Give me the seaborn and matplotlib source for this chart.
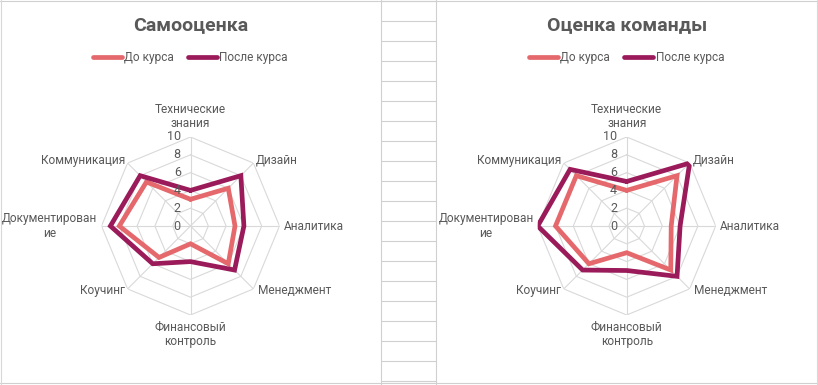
import numpy as np
import pandas as pd
import matplotlib
matplotlib.use("Agg")
import matplotlib.pyplot as plt
from matplotlib.lines import Line2D
import seaborn as sns

categories = ["Технические\nзнания", "Дизайн", "Аналитика", "Менеджмент",
              "Финансовый\nконтроль", "Коучинг", "Документирован\nие", "Коммуникация"]
series_names = ["До курса", "После курса"]
self_before = [3, 6, 5, 6, 2, 5, 8, 7]
self_after = [4, 8, 6, 7, 4, 6, 9, 8]
team_before = [4, 8, 5, 7, 3, 6, 8, 8]
team_after = [5, 10, 6, 8, 5, 7, 10, 9]
titles = ["Самооценка", "Оценка команды"]
radial_ticks = [0, 2, 4, 6, 8, 10]

COLORS = {"До курса": "#E5686C", "После курса": "#9A1A5A"}
TEXT = "#595959"
GRID = "#D9D9D9"

sns.set_theme(style="white")
plt.rcParams["font.family"] = ["Roboto", "DejaVu Sans"]

W, H = 818, 385
fig = plt.figure(figsize=(W / 100, H / 100), dpi=100)

# spreadsheet background
bg = fig.add_axes([0, 0, 1, 1])
bg.set_xlim(0, W)
bg.set_ylim(H, 0)
bg.axis("off")
for y in range(1, H, 20):
    bg.plot([381, 436], [y, y], color="#D0D0D0", lw=0.8)
bg.plot([381, 381], [0, H], color="#D0D0D0", lw=0.8)
bg.plot([436, 436], [0, H], color="#D0D0D0", lw=0.8)
bg.plot([0, W], [1, 1], color="#D0D0D0", lw=0.8)
bg.plot([0, W], [383, 383], color="#D0D0D0", lw=0.8)
bg.plot([1, 1], [0, H], color="#D8D8D8", lw=0.8)
bg.plot([817, 817], [0, H], color="#D8D8D8", lw=0.8)

n = len(categories)
theta = np.arange(n) * 2 * np.pi / n
R_PX = 89


def radar(cx, cy, before, after, title):
    ax = fig.add_axes([(cx - R_PX) / W, (H - cy - R_PX) / H, 2 * R_PX / W, 2 * R_PX / H],
                      projection="polar")
    ax.set_theta_offset(np.pi / 2)
    ax.set_theta_direction(-1)
    ax.set_ylim(0, 10)
    ax.grid(False)
    ax.spines["polar"].set_visible(False)
    ax.set_xticks([])
    ax.set_yticks([])
    ax.set_facecolor("none")

    closed = np.append(theta, theta[0])
    for r in radial_ticks[1:]:
        ax.plot(closed, [r] * (n + 1), color=GRID, lw=0.8, zorder=1)
    for t in theta:
        ax.plot([t, t], [0, 10], color=GRID, lw=0.8, zorder=1)

    rows = []
    for name, vals in zip(series_names, [before, after]):
        for i in range(n + 1):
            rows.append({"theta": closed[i], "value": vals[i % n], "series": name, "order": i})
    df = pd.DataFrame(rows)
    sns.lineplot(data=df, x="theta", y="value", hue="series", palette=COLORS, sort=False,
                 estimator=None, units="series", lw=3.4, legend=False, ax=ax, zorder=3,
                 solid_joinstyle="miter")
    ax.set_xlabel("")
    ax.set_ylabel("")

    for r in radial_ticks:
        ax.annotate(str(r), xy=(0, r), xytext=(-7, 0), textcoords="offset points",
                    ha="right", va="center", fontsize=9, color=TEXT)

    offsets = [((0, 5), "center", "bottom"), ((2, 2), "left", "center"),
               ((3, 0), "left", "center"), ((3, -1), "left", "center"),
               ((0, -4), "center", "top"), ((-2, -1), "right", "center"),
               ((-3, 0), "right", "center"), ((-2, 2), "right", "center")]
    for t, lab, (off, ha, va) in zip(theta, categories, offsets):
        ax.annotate(lab, xy=(t, 10), xytext=off, textcoords="offset points", ha=ha, va=va,
                    multialignment="center", fontsize=8.6, color=TEXT, linespacing=1.15,
                    annotation_clip=False)

    fig.text(cx / W, 1 - 25 / H, title, ha="center", va="center", fontsize=14,
             fontweight="bold", color=TEXT)
    handles = [Line2D([], [], color=COLORS[s], lw=3.4) for s in series_names]
    fig.legend(handles, series_names, loc="center", bbox_to_anchor=(cx / W, 1 - 58 / H),
               ncol=2, frameon=False, fontsize=8.6, handlelength=2.4, handletextpad=0.2,
               columnspacing=1.2, labelcolor=TEXT)


radar(190.5, 226, self_before, self_after, titles[0])
radar(626.7, 226, team_before, team_after, titles[1])

fig.savefig("out.png", dpi=100, facecolor="white")
